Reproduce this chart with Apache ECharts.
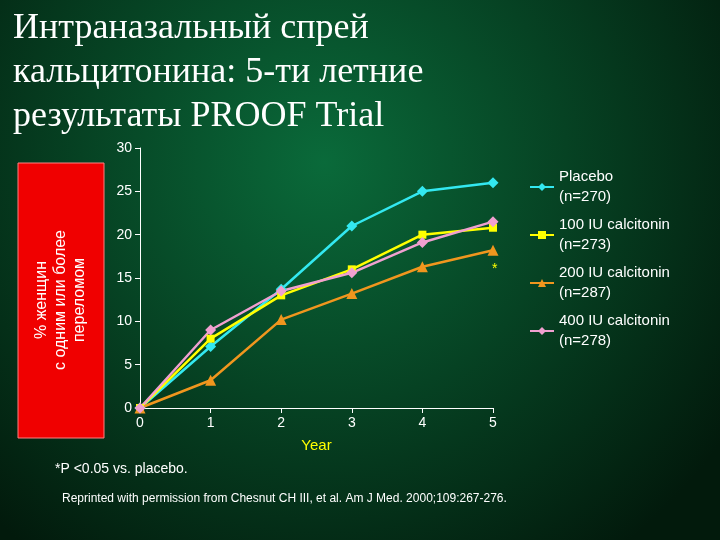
<!DOCTYPE html>
<html><head><meta charset="utf-8">
<script src="https://cdn.jsdelivr.net/npm/echarts@6/dist/echarts.min.js"></script>
<style>html,body{margin:0;padding:0}#c{width:720px;height:540px}</style>
</head><body><div id="c"></div>
<script>
const years = ["0", "1", "2", "3", "4", "5"];
const seriesNames = ["Placebo\n(n=270)", "100 IU calcitonin\n(n=273)", "200 IU calcitonin\n(n=287)", "400 IU calcitonin\n(n=278)"];
const placebo = [0, 7.1, 13.7, 21, 25, 26];
const iu100 = [0, 8, 13, 16, 20, 20.8];
const iu200 = [0, 3.2, 10.2, 13.2, 16.3, 18.2];
const iu400 = [0, 9, 13.5, 15.6, 19.1, 21.5];
const colors = ["#33e8f0", "#ffff00", "#f0961e", "#f0a0d0"];
const symbols = ["diamond", "rect", "triangle", "diamond"];
const data = [placebo, iu100, iu200, iu400];

const chart = echarts.init(document.getElementById("c"));
chart.setOption({
  backgroundColor: {
    type: "radial", x: 0.45, y: 0.3, r: 0.9,
    colorStops: [{ offset: 0, color: "#0a6a3a" }, { offset: 1, color: "#021a0c" }]
  },
  title: {
    text: "Интраназальный спрей\nкальцитонина: 5-ти летние\nрезультаты PROOF Trial",
    left: 8, top: 2,
    textStyle: { fontFamily: "Liberation Serif", fontSize: 36, fontWeight: "normal", color: "#fff", lineHeight: 44 }
  },
  graphic: [
    { type: "rect", shape: { x: 18, y: 163, width: 86, height: 275 }, style: { fill: "#f00000", stroke: "#ff8080", lineWidth: 1 } },
    { type: "text", x: 61, y: 300, rotation: Math.PI / 2, style: { text: "% женщин\nс одним или более\nпереломом", fill: "#fff", font: "16px 'Liberation Sans'", align: "center", verticalAlign: "middle", lineHeight: 19 } },
    { type: "text", x: 492, y: 262, style: { text: "*", fill: "#ffff00", font: "14px 'Liberation Sans'" } },
    { type: "text", x: 55, y: 462, style: { text: "*P <0.05 vs. placebo.", fill: "#fff", font: "14px 'Liberation Sans'" } },
    { type: "text", x: 62, y: 493, style: { text: "Reprinted with permission from Chesnut CH III, et al. Am J Med. 2000;109:267-276.", fill: "#fff", font: "12px 'Liberation Sans'" } }
  ],
  legend: {
    orient: "vertical", left: 524, top: 162, itemGap: 8, itemWidth: 24, itemHeight: 10,
    textStyle: { color: "#fff", fontSize: 15, fontFamily: "Liberation Sans", lineHeight: 20 },
    data: seriesNames
  },
  grid: { left: 140, right: 227, top: 148, bottom: 132 },
  xAxis: {
    type: "category", data: years, boundaryGap: false, name: "Year", nameLocation: "middle", nameGap: 30,
    nameTextStyle: { color: "#ffff00", fontSize: 15 },
    axisLine: { lineStyle: { color: "#fff" } }, axisTick: { lineStyle: { color: "#fff" } },
    axisLabel: { color: "#fff", fontSize: 14 }
  },
  yAxis: {
    type: "value", min: 0, max: 30, interval: 5, splitLine: { show: false },
    axisLine: { show: true, lineStyle: { color: "#fff" } }, axisTick: { show: true },
    axisLabel: { color: "#fff", fontSize: 14 }
  },
  series: data.map((d, i) => ({
    name: seriesNames[i], type: "line", data: d, symbol: symbols[i], symbolSize: i === 1 ? 8 : 11,
    lineStyle: { color: colors[i], width: 2.5 }, itemStyle: { color: colors[i] }
  }))
});
</script></body></html>
